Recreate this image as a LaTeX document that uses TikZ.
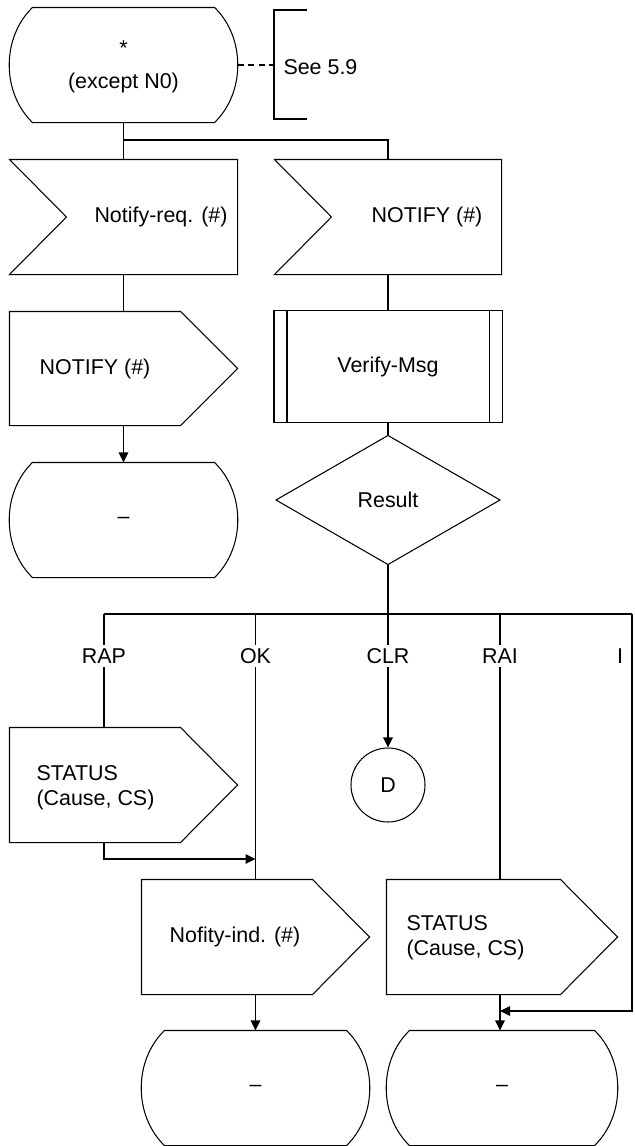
\documentclass[tikz,border=0pt]{standalone}
\usepackage{fontspec}
\setmainfont{Liberation Sans}
\usetikzlibrary{calc,arrows.meta}
\newcommand{\drawstate}[1]{\draw ($(#1.north west)+(23,0)$) -- ($(#1.north east)+(-23,0)$) .. controls ($(#1.north east)+(8,30)$) and ($(#1.south east)+(8,-30)$) .. ($(#1.south east)+(-23,0)$) -- ($(#1.south west)+(23,0)$) .. controls ($(#1.south west)+(-8,-30)$) and ($(#1.north west)+(-8,30)$) .. cycle;}
\newcommand{\drawout}[1]{\draw (#1.north west) -- ($(#1.north east)+(-57,0)$) -- (#1.east) -- ($(#1.south east)+(-57,0)$) -- (#1.south west) -- cycle;}
\newcommand{\drawin}[1]{\draw (#1.north west) -- (#1.north east) -- (#1.south east) -- (#1.south west) -- ($(#1.west)+(57,0)$) -- cycle;}
\begin{document}
\begin{tikzpicture}[x=0.02cm,y=-0.02cm,
  line width=0.6pt,
  every node/.style={font=\fontsize{12.2pt}{14.2pt}\selectfont, inner sep=0pt},
  sz/.style 2 args={minimum width=#1*0.02cm, minimum height=#2*0.02cm, draw=none, inner sep=0pt},
  lab/.style={fill=white, inner sep=2pt},
  arr/.style={-{Triangle[length=0.2cm,width=0.19cm]}}
]
\useasboundingbox (0,0) rectangle (635,1146);

% shapes (nodes)
\node[sz={227}{114}] (st1) at (123.5,65) {};
\node (st1a) at (123.5,48) {*};
\node (st1b) at (123.5,83) {(except N0)};
\node[anchor=west] (see) at (283,67) {See 5.9};
\coordinate (cbt) at (274,10);
\coordinate (cbb) at (274,119);

\node[sz={227}{114}] (in1) at (123.5,217) {};
\node (tin1) at (161,217) {Notify-req. (\#)};
\node[sz={226}{114}] (in2) at (388,217) {};
\node (tin2) at (427,217) {NOTIFY (\#)};

\node[sz={227}{113}] (out1) at (123.5,368.5) {};
\node (tout1) at (95,369) {NOTIFY (\#)};
\node[sz={227}{114}] (st2) at (123.5,520) {–};

\node[sz={227}{111}] (proc) at (388,366.5) {Verify-Msg};
\node[sz={223}{128}] (dia) at (388,500) {Result};

\coordinate (bl) at (104,614);
\coordinate (br) at (632,614);
\coordinate (okt) at (255.5,614);
\coordinate (rai) at (500,614);
\coordinate (j0) at (123.5,140);
\coordinate (j1) at (255.5,859);
\coordinate (j2) at (500,1011);

\node[sz={227}{114}] (out2) at (123.5,785) {};
\node[align=left, anchor=west] (tout2) at (36,787.5) {STATUS\\(Cause, CS)};
\node[sz={227}{114}] (out3) at (255.5,937) {};
\node (tout3) at (235,937) {Nofity-ind. (\#)};
\node[sz={227}{114}] (st3) at (255.5,1088) {–};
\node[draw, circle, minimum size=1.48cm] (D) at (388,785) {D};
\node[sz={230}{114}] (out4) at (502,937) {};
\node[align=left, anchor=west] (tout4) at (406,938) {STATUS\\(Cause, CS)};
\node[sz={230}{114}] (st4) at (502,1088) {–};

% outlines
\drawstate{st1}
\drawstate{st2}
\drawstate{st3}
\drawstate{st4}
\drawin{in1}
\drawin{in2}
\drawout{out1}
\drawout{out2}
\drawout{out3}
\drawout{out4}
\draw (proc.north west) rectangle (proc.south east);
\draw ($(proc.north west)+(13,0)$) -- ($(proc.south west)+(13,0)$);
\draw ($(proc.north east)+(-13,0)$) -- ($(proc.south east)+(-13,0)$);
\draw (dia.north) -- (dia.east) -- (dia.south) -- (dia.west) -- cycle;

% comment
\draw ($(cbt)+(33,0)$) -- (cbt) -- (cbb) -- ($(cbb)+(33,0)$);
\draw[dashed, dash pattern=on 3.5pt off 2.5pt] (st1.east) -- (cbt |- st1.east);

% connectors
\draw (st1.south) -- (in1.north);
\draw (j0) -| (in2.north);
\draw (in1.south) -- (out1.north);
\draw[arr] (out1.south) -- (st2.north);
\draw (in2.south) -- (proc.north);
\draw (proc.south) -- (dia.north);
\draw (dia.south) -- (dia.south |- bl);
\draw (bl) -- (br);
\draw (bl) -- (bl |- out2.north);
\draw[arr] (bl |- out2.south) |- (j1);
\draw (okt) -- (okt |- out3.north);
\draw[arr] (out3.south) -- (st3.north);
\draw[arr] (dia.south |- bl) -- (D.north);
\draw (rai) -- (rai |- out4.north);
\draw[arr] (rai |- out4.south) -- (rai |- st4.north);
\draw[arr] (br) |- (j2);

% branch labels
\node[lab] (lrap) at (104,656) {RAP};
\node[lab] (lok) at (255.5,656) {OK};
\node[lab] (lclr) at (388,656) {CLR};
\node[lab] (lrai) at (500,656) {RAI};
\node (li) at (620,656) {I};
\end{tikzpicture}
\end{document}
